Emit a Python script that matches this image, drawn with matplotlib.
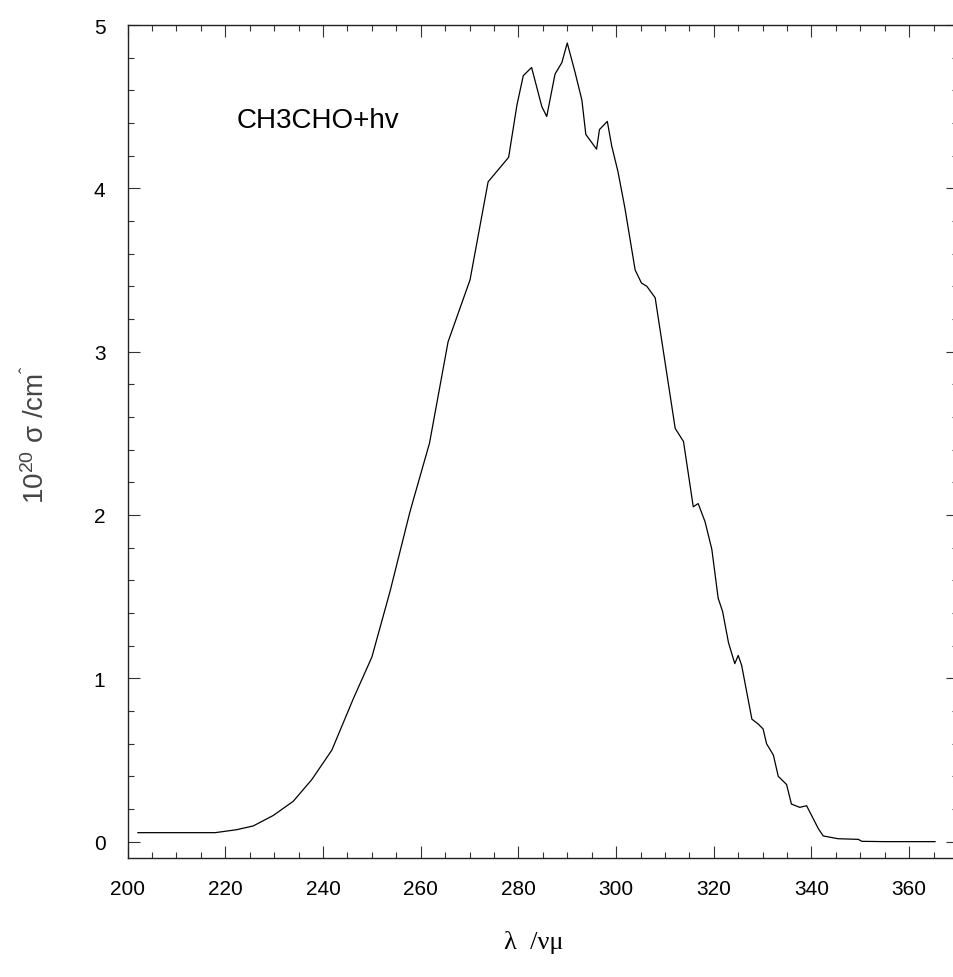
import matplotlib
matplotlib.use('Agg')
import matplotlib.pyplot as plt
from matplotlib.ticker import MultipleLocator

plt.rcParams['font.family'] = ['Liberation Sans', 'DejaVu Sans']
plt.rcParams['mathtext.fontset'] = 'custom'
plt.rcParams['mathtext.rm'] = 'Liberation Sans'
plt.rcParams['mathtext.it'] = 'Liberation Sans'

# Absorption cross section of CH3CHO
wavelength = [202.1, 206, 210, 214, 217.9, 222.3, 225.7, 229.8, 233.9, 237.7,
              241.8, 246.2, 250.0, 253.7, 257.8, 261.8, 265.6, 270.1, 273.8, 278.0,
              279.7, 281.0, 282.7, 284.8, 285.8, 287.5, 288.9, 290.0, 291.6, 293.0,
              293.8, 296.0, 296.6, 298.2, 299.1, 300.4, 301.8, 303.9, 305.2, 306.3,
              308.0, 310.0, 312.1, 313.8, 315.8, 316.8, 318.2, 319.6, 320.9, 321.8,
              323.0, 324.3, 325.0, 325.7, 327.8, 329.1, 330.1, 330.8, 332.2, 333.2,
              334.9, 335.9, 337.6, 339.0, 341.4, 342.4, 345.4, 349.6, 350.3, 355,
              360, 365.3]
sigma = [0.055, 0.055, 0.055, 0.055, 0.055, 0.073, 0.096, 0.16, 0.247, 0.38,
         0.56, 0.875, 1.13, 1.53, 2.02, 2.44, 3.06, 3.44, 4.04, 4.19,
         4.51, 4.69, 4.74, 4.50, 4.44, 4.70, 4.77, 4.89, 4.71, 4.54,
         4.33, 4.24, 4.36, 4.41, 4.26, 4.10, 3.88, 3.50, 3.42, 3.40,
         3.33, 2.94, 2.53, 2.45, 2.05, 2.07, 1.96, 1.79, 1.49, 1.41,
         1.22, 1.09, 1.14, 1.08, 0.75, 0.72, 0.69, 0.60, 0.53, 0.40,
         0.35, 0.23, 0.21, 0.22, 0.08, 0.035, 0.018, 0.014, 0.002, 0.0,
         0.0, 0.0]

fig = plt.figure(figsize=(9.54, 9.78), dpi=100)
ax = fig.add_axes([0.1338, 0.1217, 0.8704, 0.8517])

ax.plot(wavelength, sigma, color='black', linewidth=0.9)

ax.set_xlim(200, 370)
ax.set_ylim(-0.1, 5)
ax.xaxis.set_major_locator(MultipleLocator(20))
ax.xaxis.set_minor_locator(MultipleLocator(5))
ax.yaxis.set_major_locator(MultipleLocator(1))
ax.yaxis.set_minor_locator(MultipleLocator(0.2))
ax.set_xticks(range(200, 361, 20))

ax.tick_params(which='both', direction='in', top=True, right=True,
               color='#333333', width=0.8)
ax.tick_params(which='major', length=8.5, labelsize=15)
ax.tick_params(axis='x', which='major', pad=15)
ax.tick_params(axis='y', which='major', pad=16)
ax.tick_params(which='minor', length=4)
for s in ax.spines.values():
    s.set_linewidth(1.0)
    s.set_color('#222222')

ax.text(222.3, 4.42, 'CH3CHO+hv', fontsize=20, va='center', ha='left')

fig.text(0.037, 0.556, '10$^{20}$ σ /cm$^{ˆ}$', rotation=90, ha='center',
         va='center', fontsize=20, color='#444444')
fig.text(0.560, 0.036, 'λ  /νμ', ha='center', va='center', fontsize=19,
         family='Liberation Serif')

fig.savefig('out.png', dpi=100)
